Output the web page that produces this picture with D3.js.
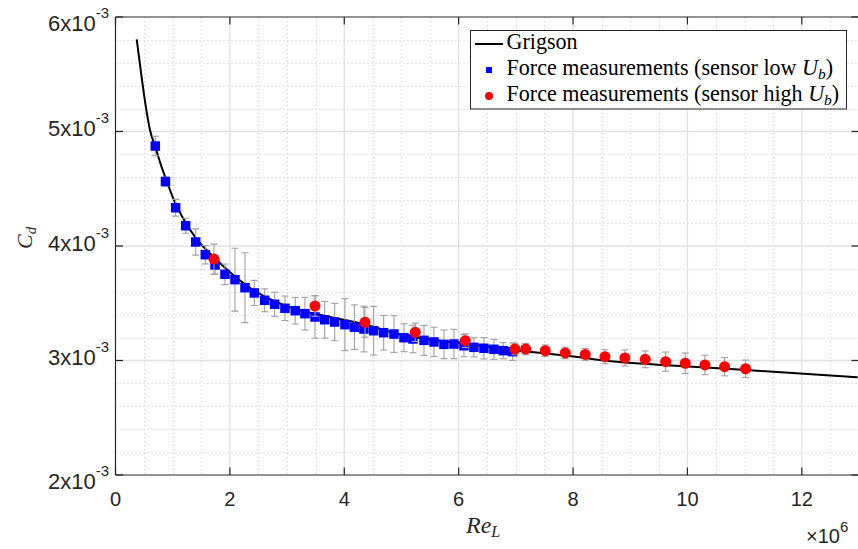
<!DOCTYPE html>
<html>
<head>
<meta charset="utf-8">
<script src="https://cdn.jsdelivr.net/npm/d3@7"></script>
<style>
  html, body { margin: 0; padding: 0; background: #fff; }
  svg { display: block; }
</style>
</head>
<body>
<svg id="chart" width="858" height="549"></svg>
<script>
// ---- data (Re in units of 1e6, Cd in units of 1e-3) ----
const grigsonRe = [0.371, 0.45, 0.52, 0.6, 0.7, 0.8, 0.9, 1.023, 1.2, 1.42, 1.74, 2.059, 2.409, 2.759, 3.108, 3.458, 3.808, 4.274, 5.091, 6.08, 6.955, 8.121, 8.47, 9.869, 11.035, 12.976];
const grigsonCd = [5.805, 5.50, 5.25, 5.02, 4.86, 4.70, 4.56, 4.40, 4.225, 4.06, 3.893, 3.747, 3.616, 3.522, 3.456, 3.412, 3.374, 3.325, 3.214, 3.15, 3.092, 3.028, 3.004, 2.952, 2.917, 2.853];

const lowRe  = [0.696, 0.874, 1.052, 1.227, 1.402, 1.570, 1.740, 1.914, 2.089, 2.264, 2.427, 2.608, 2.783, 2.963, 3.143, 3.313, 3.488, 3.657, 3.832, 4.012, 4.178, 4.344, 4.514, 4.689, 4.869, 5.044, 5.201, 5.394, 5.568, 5.743, 5.918, 6.093, 6.267, 6.442, 6.617, 6.780, 6.944];
const lowCd  = [4.873, 4.563, 4.334, 4.177, 4.035, 3.924, 3.834, 3.753, 3.706, 3.636, 3.590, 3.526, 3.491, 3.456, 3.435, 3.409, 3.380, 3.356, 3.336, 3.313, 3.291, 3.275, 3.260, 3.243, 3.231, 3.199, 3.188, 3.176, 3.162, 3.141, 3.144, 3.129, 3.115, 3.107, 3.098, 3.086, 3.077];
const lowErr = [0.085, 0.04, 0.073, 0.065, 0.115, 0.08, 0.08, 0.09, 0.275, 0.305, 0.11, 0.10, 0.105, 0.107, 0.116, 0.143, 0.186, 0.16, 0.163, 0.227, 0.195, 0.2, 0.213, 0.151, 0.16, 0.122, 0.12, 0.131, 0.128, 0.125, 0.128, 0.096, 0.084, 0.093, 0.087, 0.07, 0.076];

const highRe  = [1.722, 3.488, 4.362, 5.241, 6.116, 6.984, 7.171, 7.514, 7.864, 8.213, 8.558, 8.907, 9.262, 9.619, 9.962, 10.306, 10.65, 11.017];
const highCd  = [3.886, 3.476, 3.334, 3.246, 3.173, 3.100, 3.100, 3.086, 3.066, 3.053, 3.033, 3.022, 3.010, 2.990, 2.976, 2.961, 2.946, 2.928];
const highErr = [0.13, 0.09, 0.13, 0.08, 0.06, 0.05, 0.05, 0.05, 0.05, 0.052, 0.061, 0.07, 0.073, 0.084, 0.09, 0.085, 0.08, 0.076];

const xTicks = [0, 2, 4, 6, 8, 10, 12];
const xTickLabels = ["0", "2", "4", "6", "8", "10", "12"];
const yTicks = [2, 3, 4, 5, 6];
const yTickMantissa = ["2", "3", "4", "5", "6"];
const yTickExponent = "-3";
const xExponent = "6";
const legendLabels = ["Grigson", "Force measurements (sensor low ", "Force measurements (sensor high "];

// ---- layout ----
const svg = d3.select("#chart");
const L = 115.5, R = 859, T = 17, B = 475;
const x = d3.scaleLinear().domain([0, 13]).range([L, R]);
const y = d3.scaleLinear().domain([2, 6]).range([B, T]);
const axisColor = "#262626";
const sans = "'Liberation Sans', Arial, Helvetica, sans-serif";
const serif = "'Liberation Serif', 'Times New Roman', serif";

// grid
const g = svg.append("g");
const xMinor = d3.range(0, 13.001, 0.5).filter(v => v % 2 !== 0);
const yMinor = d3.range(2, 6.001, 0.2).filter(v => Math.abs(v - Math.round(v)) > 1e-6);
g.selectAll(".xmin").data(xMinor).join("line")
  .attr("x1", d => Math.round(x(d)) + 0.5).attr("x2", d => Math.round(x(d)) + 0.5)
  .attr("y1", T).attr("y2", B)
  .attr("stroke", "#c8c8c8").attr("stroke-width", 1).attr("stroke-dasharray", "1,3");
g.selectAll(".ymin").data(yMinor).join("line")
  .attr("y1", d => Math.round(y(d)) + 0.5).attr("y2", d => Math.round(y(d)) + 0.5)
  .attr("x1", L).attr("x2", R)
  .attr("stroke", "#c8c8c8").attr("stroke-width", 1).attr("stroke-dasharray", "1,3");
g.selectAll(".xmaj").data(xTicks.filter(v => v > 0)).join("line")
  .attr("x1", d => x(d)).attr("x2", d => x(d))
  .attr("y1", T).attr("y2", B)
  .attr("stroke", "#e0e0e0").attr("stroke-width", 1.3);
g.selectAll(".ymaj").data(yTicks.filter(v => v > 2 && v < 6)).join("line")
  .attr("y1", d => y(d)).attr("y2", d => y(d))
  .attr("x1", L).attr("x2", R)
  .attr("stroke", "#e0e0e0").attr("stroke-width", 1.3);

// axes frame and inward ticks
const ax = svg.append("g").attr("stroke", axisColor).attr("stroke-width", 1.2);
ax.append("line").attr("x1", L).attr("x2", R).attr("y1", B).attr("y2", B);
ax.append("line").attr("x1", L).attr("x2", R).attr("y1", T).attr("y2", T);
ax.append("line").attr("x1", L).attr("x2", L).attr("y1", T).attr("y2", B);
ax.append("line").attr("x1", R).attr("x2", R).attr("y1", T).attr("y2", B);
const tl = 7.5;
xTicks.forEach(v => {
  ax.append("line").attr("x1", x(v)).attr("x2", x(v)).attr("y1", B).attr("y2", B - tl);
  ax.append("line").attr("x1", x(v)).attr("x2", x(v)).attr("y1", T).attr("y2", T + tl);
});
yTicks.forEach(v => {
  ax.append("line").attr("y1", y(v)).attr("y2", y(v)).attr("x1", L).attr("x2", L + tl);
  ax.append("line").attr("y1", y(v)).attr("y2", y(v)).attr("x1", R).attr("x2", R - tl);
});

// tick labels
svg.append("g").selectAll("text").data(xTicks).join("text")
  .attr("x", d => x(d)).attr("y", 506)
  .attr("text-anchor", "middle").attr("font-family", sans).attr("font-size", 20)
  .attr("fill", axisColor)
  .text((d, i) => xTickLabels[i]);

const yl = svg.append("g").selectAll("text").data(yTicks).join("text")
  .attr("x", 109)
  .attr("y", (d, i) => y(d) + ((i === 0 || i === yTicks.length - 1) ? 13.5 : 4.5))
  .attr("text-anchor", "end").attr("font-family", sans).attr("font-size", 22)
  .attr("fill", axisColor);
yl.append("tspan").text((d, i) => yTickMantissa[i] + "x10");
yl.append("tspan").attr("dy", -13).attr("font-size", 15).text(yTickExponent);

// x exponent
const xe = svg.append("text").attr("x", 806).attr("y", 543)
  .attr("font-family", sans).attr("font-size", 20).attr("fill", axisColor);
xe.append("tspan").text("\u00d710");
xe.append("tspan").attr("dy", -11).attr("font-size", 15).text(xExponent);

// axis labels
const xl = svg.append("text").attr("x", 466).attr("y", 533)
  .attr("font-family", serif).attr("font-size", 24).attr("font-style", "italic").attr("fill", axisColor);
xl.append("tspan").text("Re");
xl.append("tspan").attr("dy", 4).attr("font-size", 16).text("L");

const ylab = svg.append("text").attr("transform", "translate(32,249) rotate(-90)")
  .attr("font-family", serif).attr("font-size", 22).attr("font-style", "italic").attr("fill", axisColor);
ylab.append("tspan").text("C");
ylab.append("tspan").attr("dy", 4).attr("font-size", 15).text("d");

// plot area clip
svg.append("clipPath").attr("id", "clip").append("rect")
  .attr("x", L).attr("y", T).attr("width", R - L).attr("height", B - T);
const plot = svg.append("g").attr("clip-path", "url(#clip)");

// Grigson curve
const curvePts = grigsonRe.map((r, i) => [r, grigsonCd[i]]);
plot.append("path").datum(curvePts)
  .attr("d", d3.line().x(d => x(d[0])).y(d => y(d[1])).curve(d3.curveMonotoneX))
  .attr("fill", "none").attr("stroke", "#000").attr("stroke-width", 2);

function errorBars(re, cd, err) {
  const eg = plot.append("g").attr("stroke", "#a0a0a0").attr("stroke-width", 1.1).attr("fill", "none");
  re.forEach((r, i) => {
    const cx = x(r), y1 = y(cd[i] + err[i]), y2 = y(cd[i] - err[i]);
    eg.append("line").attr("x1", cx).attr("x2", cx).attr("y1", y1).attr("y2", y2);
    eg.append("line").attr("x1", cx - 3.5).attr("x2", cx + 3.5).attr("y1", y1).attr("y2", y1);
    eg.append("line").attr("x1", cx - 3.5).attr("x2", cx + 3.5).attr("y1", y2).attr("y2", y2);
  });
}

errorBars(lowRe, lowCd, lowErr);
plot.append("g").selectAll("rect").data(lowRe).join("rect")
  .attr("x", d => x(d) - 4.75).attr("y", (d, i) => y(lowCd[i]) - 4.75)
  .attr("width", 9.5).attr("height", 9.5).attr("fill", "#0000ff");

errorBars(highRe, highCd, highErr);
plot.append("g").selectAll("circle").data(highRe).join("circle")
  .attr("cx", d => x(d)).attr("cy", (d, i) => y(highCd[i]))
  .attr("r", 5.5).attr("fill", "#ff0000");

// legend
const lg = svg.append("g");
lg.append("rect").attr("x", 470.5).attr("y", 30.5).attr("width", 376).attr("height", 78.5)
  .attr("fill", "#fff").attr("stroke", axisColor).attr("stroke-width", 1);
lg.append("line").attr("x1", 475).attr("x2", 503).attr("y1", 44).attr("y2", 44)
  .attr("stroke", "#000").attr("stroke-width", 2);
lg.append("rect").attr("x", 486).attr("y", 67).attr("width", 6).attr("height", 6).attr("fill", "#0000ff");
lg.append("circle").attr("cx", 489).attr("cy", 96).attr("r", 4).attr("fill", "#ff0000");

const rows = [49.3, 75, 101];
const legTexts = rows.map((by, i) => {
  const t = lg.append("text").attr("x", 506.5).attr("y", by)
    .attr("font-family", serif).attr("font-size", 20).attr("fill", "#000");
  t.append("tspan").text(legendLabels[i]);
  if (i > 0) {
    t.append("tspan").attr("font-style", "italic").text("U");
    t.append("tspan").attr("font-style", "italic").attr("font-size", 14).attr("dy", 4).text("b");
    t.append("tspan").attr("dy", -4).text(")");
  }
  return t;
});
// fit longest row to the box width seen in the reference
const target = 333;
const len = legTexts[2].node().getComputedTextLength();
if (len > 0) {
  const fs = 20 * target / len;
  legTexts.forEach(t => t.attr("font-size", fs));
  legTexts.forEach(t => t.selectAll("tspan").filter(function () { return d3.select(this).text() === "b"; }).attr("font-size", fs * 0.7));
}
</script>
</body>
</html>
